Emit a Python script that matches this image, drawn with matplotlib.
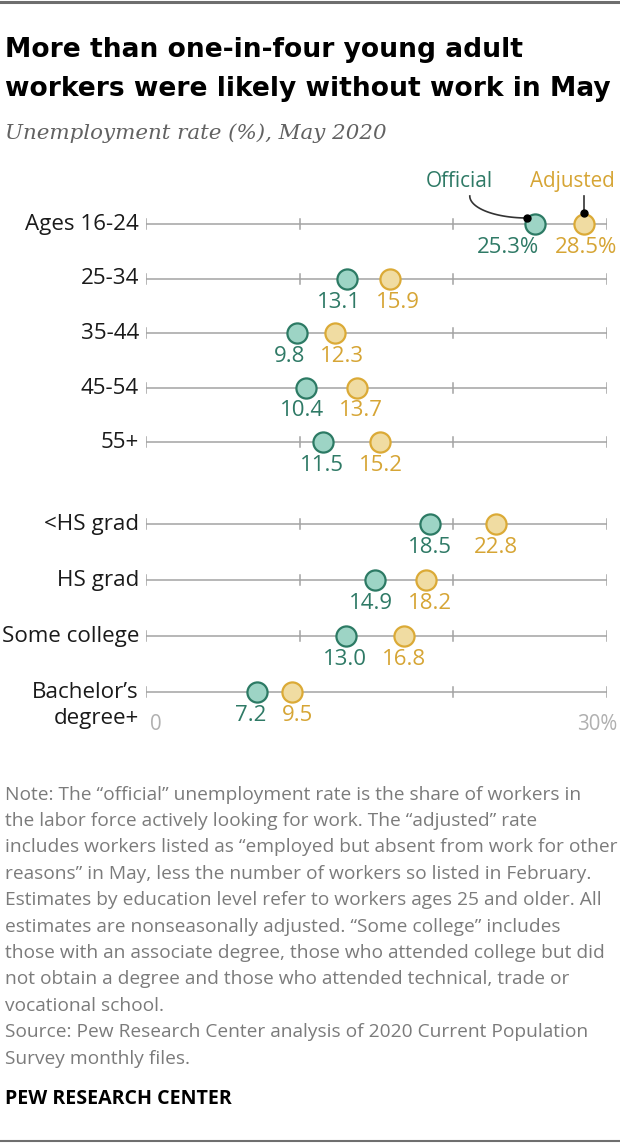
import matplotlib
matplotlib.use('Agg')
import matplotlib.pyplot as plt
import numpy as np

categories = ['Ages 16-24', '25-34', '35-44', '45-54', '55+',
              '<HS grad', 'HS grad', 'Some college', 'Bachelor’s\ndegree+']
official = [25.3, 13.1, 9.8, 10.4, 11.5, 18.5, 14.9, 13.0, 7.2]
adjusted = [28.5, 15.9, 12.3, 13.7, 15.2, 22.8, 18.2, 16.8, 9.5]
xticks = [0, 10, 20, 30]

title_lines = ['More than one-in-four young adult',
               'workers were likely without work in May']
subtitle = 'Unemployment rate (%), May 2020'
note_lines = [
    'Note: The “official” unemployment rate is the share of workers in',
    'the labor force actively looking for work. The “adjusted” rate',
    'includes workers listed as “employed but absent from work for other',
    'reasons” in May, less the number of workers so listed in February.',
    'Estimates by education level refer to workers ages 25 and older. All',
    'estimates are nonseasonally adjusted. “Some college” includes',
    'those with an associate degree, those who attended college but did',
    'not obtain a degree and those who attended technical, trade or',
    'vocational school.',
    'Source: Pew Research Center analysis of 2020 Current Population',
    'Survey monthly files.']

SANS = ['Open Sans', 'DejaVu Sans']
plt.rcParams['font.family'] = SANS

off_fill, off_edge, off_text = '#9dd4c5', '#2c7a64', '#2f7a66'
adj_fill, adj_edge, adj_text = '#f0dca2', '#dbaa36', '#d6a535'
grid_col = '#a3a3a3'

W, H = 620, 1144
fig = plt.figure(figsize=(W / 100, H / 100), dpi=100)
renderer = fig.canvas.get_renderer()


def width(t):
    return t.get_window_extent(renderer).width


def fit(t, width_px):
    """scale a text's fontsize so it spans width_px"""
    for _ in range(3):
        t.set_fontsize(t.get_fontsize() * width_px / width(t))
    return t.get_fontsize()


def ftxt(x, y, s, **kw):
    # x, y in pixels from top-left
    return fig.text(x / W, 1 - y / H, s, **kw)


# axes: x in data units, y in pixels (top = 0)
x0, x1 = 146, 607
ax = fig.add_axes([x0 / W, 0, (x1 - x0) / W, 1])
ax.set_xlim(0, 30)
ax.set_ylim(H, 0)
ax.axis('off')
ppu = (x1 - x0) / 30.0   # pixels per percentage point

n_age = 5
ypos = np.concatenate([224 + 54.5 * np.arange(n_age),
                       524 + 56 * np.arange(len(categories) - n_age)])

# font sizes fitted to reference widths
probe = ax.text(0, 0, 'Ages 16-24', fontsize=14)
cat_fs = fit(probe, 114)
probe.remove()
probe = ax.text(0, 0, '13.1', fontsize=14)
val_fs = fit(probe, 44)
probe.remove()

gap = 15 / ppu
right_limit = (617 - x0) / ppu

for i, y in enumerate(ypos):
    ax.plot([0, 30], [y, y], color=grid_col, lw=1.1, zorder=1, solid_capstyle='butt')
    for t in xticks:
        ax.plot([t, t], [y - 5, y + 5], color=grid_col, lw=1.1, zorder=1)
    ax.plot(official[i], y, 'o', ms=14.5, mfc=off_fill, mec=off_edge, mew=1.6, zorder=3)
    ax.plot(adjusted[i], y, 'o', ms=14.5, mfc=adj_fill, mec=adj_edge, mew=1.6, zorder=3)

    sfx = '%' if i == 0 else ''
    to = ax.text(official[i], y + 29, f'{official[i]:.1f}{sfx}', color=off_text,
                 fontsize=val_fs, ha='center', va='baseline')
    ta = ax.text(adjusted[i], y + 29, f'{adjusted[i]:.1f}{sfx}', color=adj_text,
                 fontsize=val_fs, ha='center', va='baseline')
    # push the two labels apart when they would collide
    wo, wa = width(to) / ppu, width(ta) / ppu
    co, ca = official[i], adjusted[i]
    short = (co + wo / 2 + gap) - (ca - wa / 2)
    if short > 0:
        co -= short / 2
        ca += short / 2
    over = ca + wa / 2 - right_limit
    if over > 0:
        ca -= over
        co = min(co, ca - wa / 2 - gap - wo / 2)
    to.set_x(co)
    ta.set_x(ca)

    parts = categories[i].split('\n')
    for k, part in enumerate(parts):
        ax.text(-7 / ppu, y + 6 + 26 * k, part, ha='right', va='baseline',
                fontsize=cat_fs, color='#1a1a1a')

# axis end labels
ax.text(4 / ppu, ypos[-1] + 38, '0', color='#b0b0b0', fontsize=val_fs * 0.92,
        ha='left', va='baseline')
ax.text(right_limit, ypos[-1] + 38, '30%', color='#b0b0b0', fontsize=val_fs * 0.92,
        ha='right', va='baseline')

# callouts on the top row
y0 = ypos[0]
lo = ax.text(official[0] - 42 / ppu, 187, 'Official', color=off_text, fontsize=val_fs,
             ha='right', va='baseline')
fit(lo, 67)
la = ax.text(right_limit - 2 / ppu, 187, 'Adjusted', color=adj_text, fontsize=val_fs,
             ha='right', va='baseline')
fit(la, 85)
th = np.linspace(0, np.pi / 2, 60)
ex, ey = official[0] - 7.5 / ppu, y0 - 6
sx, sy = official[0] - 65 / ppu, 196
ax.plot(sx + (ex - sx) * (1 - np.cos(th)), sy + (ey - sy) * np.sin(th),
        color='#333333', lw=1.2, zorder=4)
ax.plot(ex, ey, 'o', ms=5, color='black', zorder=5)
ax.plot([adjusted[0], adjusted[0]], [196, y0 - 11], color='#333333', lw=1.2, zorder=4)
ax.plot(adjusted[0], y0 - 11, 'o', ms=5, color='black', zorder=5)

# title, subtitle, note
t1 = ftxt(5, 57, title_lines[0], fontsize=20, fontweight='bold', va='baseline',
          family=['DejaVu Sans'], color='black')
t2 = ftxt(5, 95.5, title_lines[1], fontsize=20, fontweight='bold', va='baseline',
          family=['DejaVu Sans'], color='black')
tfs = fit(t2, 607)
t1.set_fontsize(tfs)

st = ftxt(5, 139, subtitle, fontsize=15, style='italic', va='baseline',
          color='#626262', family=['DejaVu Serif'])
fit(st, 383)

note_objs = [ftxt(5, 799.5 + 26.4 * i, line, fontsize=12, va='baseline', color='#7b7b7b')
             for i, line in enumerate(note_lines)]
nfs = fit(note_objs[2], 611)
for t in note_objs:
    t.set_fontsize(nfs)

pw = ftxt(5, 1104, 'PEW RESEARCH CENTER', fontsize=13, fontweight='bold',
          va='baseline', color='black')
fit(pw, 226)

# top and bottom rules
fig.add_artist(plt.Line2D([0, 1], [1 - 1.5 / H] * 2, color='#6e6e6e', lw=2.2))
fig.add_artist(plt.Line2D([0, 1], [1 - 1141 / H] * 2, color='#6e6e6e', lw=1.5))

fig.savefig('out.png', dpi=100)
